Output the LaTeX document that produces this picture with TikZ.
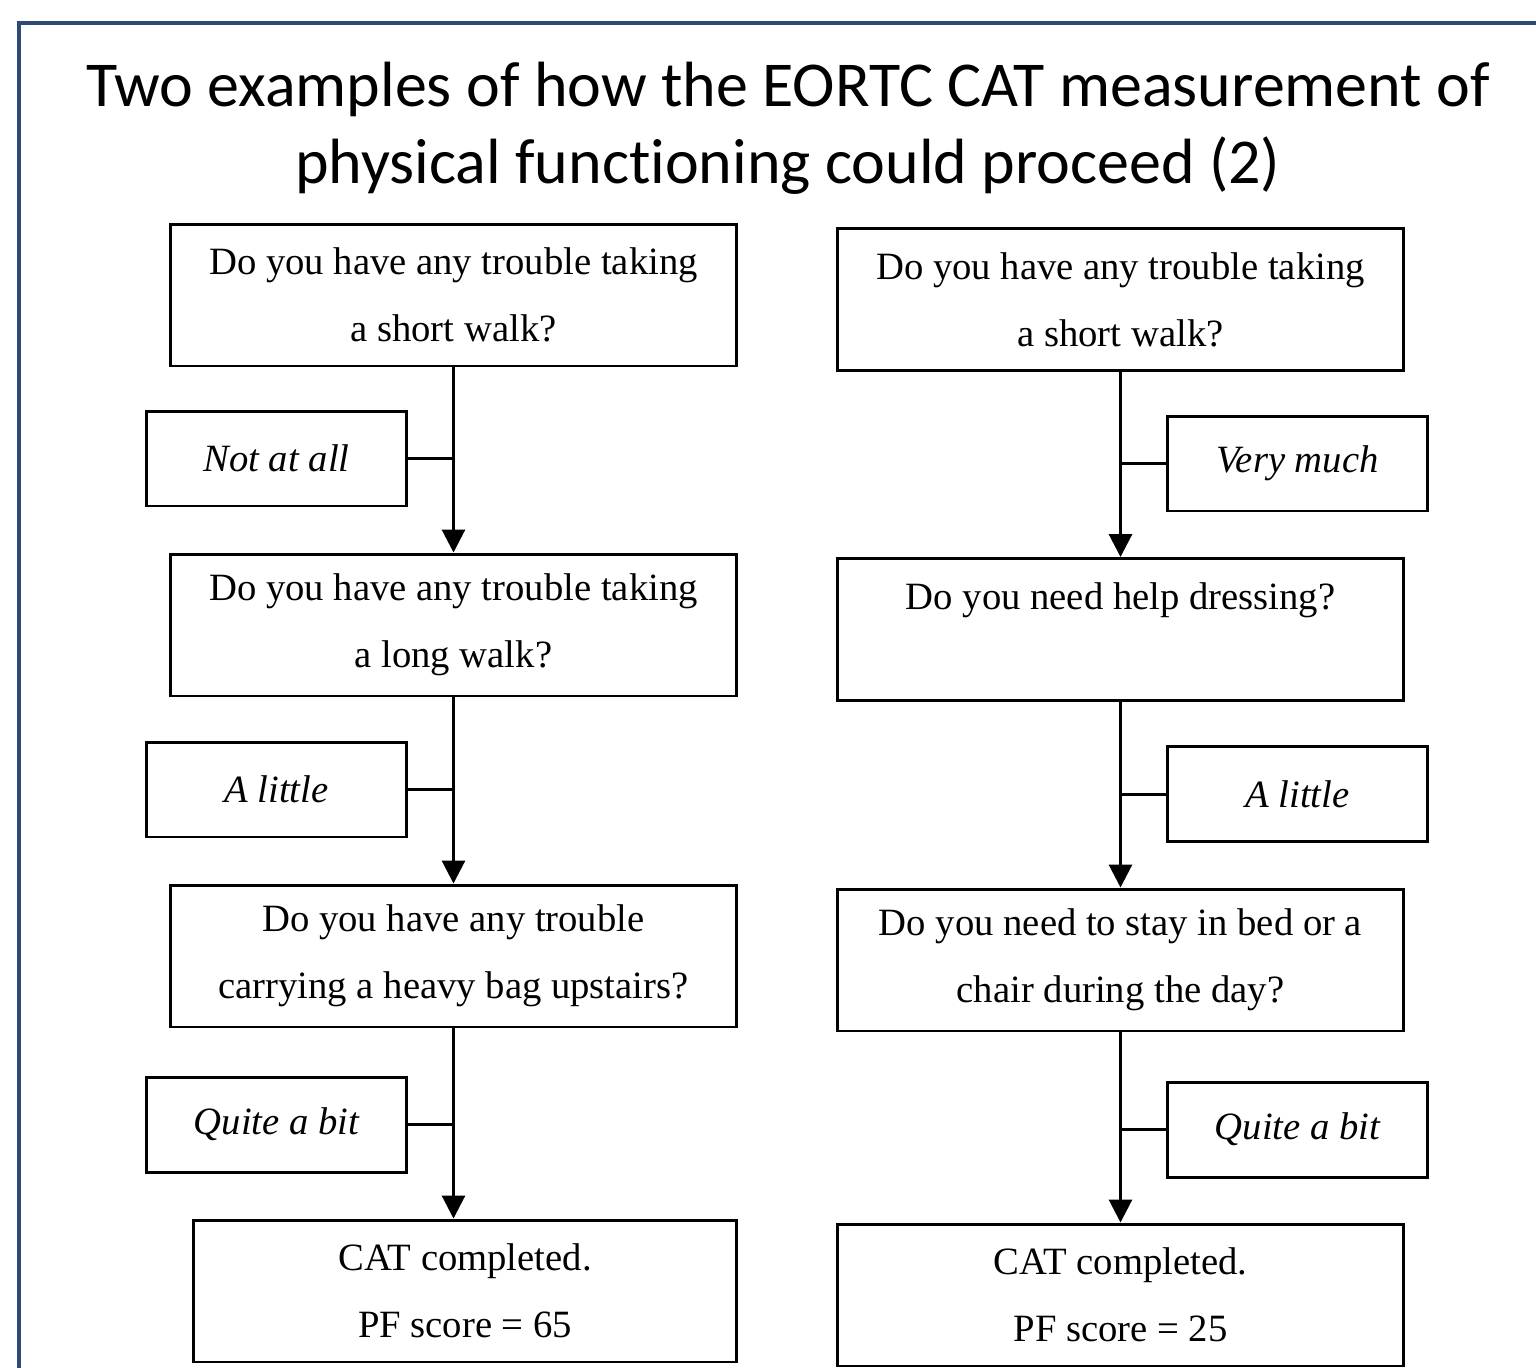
\documentclass[tikz,border=0pt]{standalone}
\usepackage{fontspec}
\setmainfont{Liberation Serif}
\newfontfamily\titlefont[Ligatures=NoCommon]{Carlito}
\usepackage{tikz}
\usetikzlibrary{arrows.meta}
\definecolor{FrameBlue}{HTML}{2E4A7D}
\definecolor{BoxInk}{HTML}{000000}

\begin{document}
\begin{tikzpicture}[x=0.02cm,y=-0.02cm,
    qbox/.style={draw=BoxInk, line width=1.7pt, minimum width=11.34cm,
      minimum height=2.84cm, align=center, inner sep=2pt,
      font=\fontsize{22}{38}\selectfont},
    rbox/.style={qbox, minimum width=10.88cm},
    abox/.style={draw=BoxInk, line width=1.7pt, minimum width=5.2cm,
      minimum height=1.9cm, align=center, inner sep=2pt,
      font=\fontsize{22}{38}\selectfont\itshape},
    flow/.style={line width=1.7pt, -{Triangle[width=0.46cm,length=0.46cm]}},
    stub/.style={line width=1.7pt}]
  \useasboundingbox (0,0) rectangle (1536,1367);
  % outer frame, cut by the page edge
  \draw[FrameBlue, line width=2pt] (19,23) rectangle (1600,1420);
  \node[font=\titlefont\fontsize{36.4}{44}\selectfont, align=center] (title) at (788,128)
    {Two examples of how the EORTC CAT measurement of\\physical functioning could proceed (2)};

  % left example
  \node[qbox] (qlA) at (453.5,295) {Do you have any trouble taking\\a short walk?};
  \node[abox] (alA) at (276.5,458.5) {Not at all};
  \node[qbox] (qlB) at (453.5,625) {Do you have any trouble taking\\a long walk?};
  \node[abox] (alB) at (276.5,789.5) {A little};
  \node[qbox] (qlC) at (453.5,956) {Do you have any trouble\\carrying a heavy bag upstairs?};
  \node[abox] (alC) at (276.5,1124.5) {Quite a bit};
  \node[rbox] (rl) at (465,1291) {CAT completed.\\PF score = 65};

  \draw[flow] (qlA.south) -- (qlB.north);
  \draw[flow] (qlB.south) -- (qlC.north);
  \draw[flow] (qlC.south) -- (qlC.south |- rl.north);
  \draw[stub] (alA.east) -- (alA.east -| qlA.south);
  \draw[stub] (alB.east) -- (alB.east -| qlB.south);
  \draw[stub] (alC.east) -- (alC.east -| qlC.south);

  % right example
  \node[qbox] (qrA) at (1120.5,299.5) {Do you have any trouble taking\\a short walk?};
  \node[abox] (arA) at (1297.5,463.5) {Very much};
  \node[qbox] (qrB) at (1120.5,629.5) {Do you need help dressing?\\\mbox{}};
  \node[abox] (arB) at (1297.5,794) {A little};
  \node[qbox] (qrC) at (1120.5,960) {Do you need to stay in bed or a\\chair during the day?};
  \node[abox] (arC) at (1297.5,1129.5) {Quite a bit};
  \node[qbox] (rr) at (1120.5,1295) {CAT completed.\\PF score = 25};

  \draw[flow] (qrA.south) -- (qrB.north);
  \draw[flow] (qrB.south) -- (qrC.north);
  \draw[flow] (qrC.south) -- (rr.north);
  \draw[stub] (arA.west) -- (arA.west -| qrA.south);
  \draw[stub] (arB.west) -- (arB.west -| qrB.south);
  \draw[stub] (arC.west) -- (arC.west -| qrC.south);
\end{tikzpicture}
\end{document}
